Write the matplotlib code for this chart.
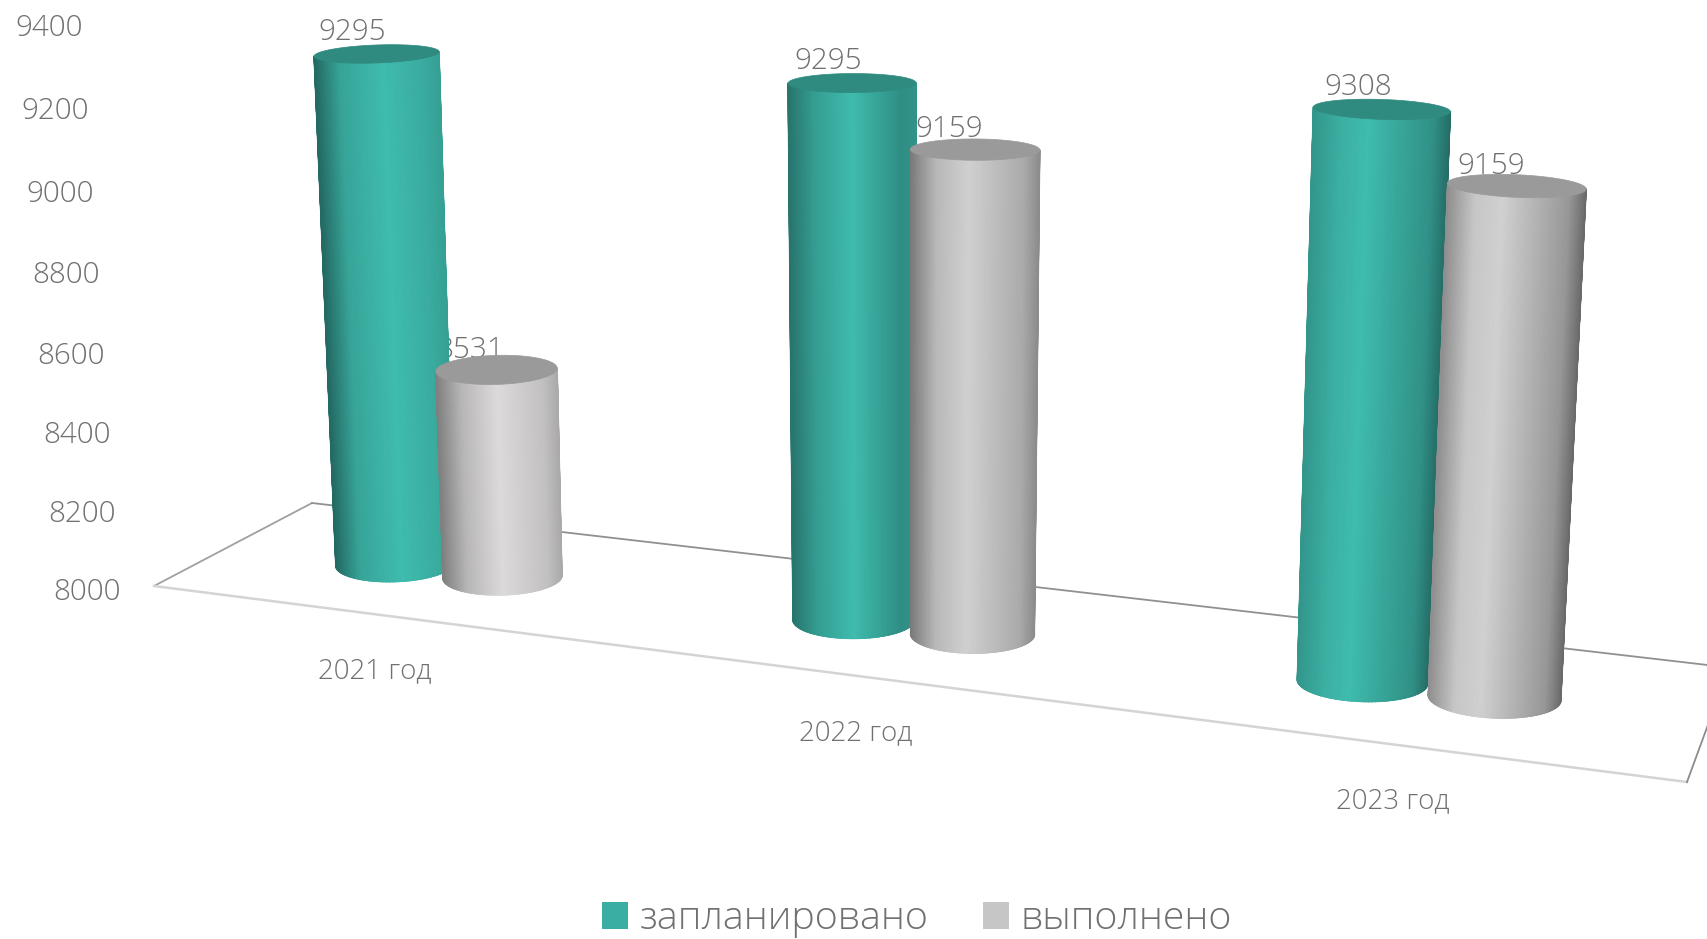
import numpy as np
import matplotlib
matplotlib.use("Agg")
import matplotlib.pyplot as plt
from matplotlib.colors import LinearSegmentedColormap
from matplotlib.patches import Patch, Polygon

# Data
categories = ["2021 год", "2022 год", "2023 год"]
series_names = ["запланировано", "выполнено"]
planned = [9295, 9295, 9308]
done = [8531, 9159, 9159]
y_ticks = [8000, 8200, 8400, 8600, 8800, 9000, 9200, 9400]

VMIN, VMAX = 8000, 9400
TEXT = "#707070"
plt.rcParams["font.family"] = ["Open Sans", "DejaVu Sans"]

# Floor corners in picture pixels: back-left, front-left, front-right, back-right
FLOOR = [(312, 503), (154, 586), (1687, 782), (1729, 667.5)]
VANISH = np.array([900.0, 14300.0])
G = 0.04


def floor_matrix():
    src = [(0, 1), (0, 0), (1, 0), (1, 1)]
    rows, rhs = [], []
    for (u, w), (x, y) in zip(src, FLOOR):
        rows.append([u, w, 1, 0, 0, 0, -u * x, -w * x])
        rows.append([0, 0, 0, u, w, 1, -u * y, -w * y])
        rhs += [x, y]
    h = np.linalg.solve(np.array(rows, float), np.array(rhs, float))
    return np.append(h, 1).reshape(3, 3)


HOM = floor_matrix()


def floor_point(u, w):
    p = HOM @ np.array([u, w, 1.0])
    return p[:2] / p[2]


def rise(value):
    t = (value - VMIN) / (VMAX - VMIN)
    return t * (1 - G) / (1 - G * t)


def lift(base, value, k=0.52, h0=555):
    # point above a floor point, leaning to the vertical vanishing point
    f = rise(value)
    height = (h0 + k * (base[1] - 568)) * f
    d = VANISH - base
    d = d / d[1]
    return base - d * height, f


def ellipse_frame(center, radius, axis_dir):
    # major axis is perpendicular to the cylinder axis
    major = np.array([axis_dir[1], -axis_dir[0]])
    major /= np.linalg.norm(major)
    minor = np.array([-major[1], major[0]])
    b = 9.0 + 0.0175 * (center[1] - 54)
    return center, major * radius, minor * b


def ring(frame, th):
    c, ma, mi = frame
    return c + np.outer(np.cos(th), ma) + np.outer(np.sin(th), mi)


def cylinder(ax, u, w, value, light, dark_tone, shade, top_color, z):
    base = floor_point(u, w)
    top, f = lift(base, value)
    axis_dir = VANISH - base
    r = max(59.5, 59.5 + (base[1] - 600) * 0.07)
    bottom_frame = ellipse_frame(base, r, axis_dir)
    top_frame = ellipse_frame(top, r * (1 + 0.055 * f), axis_dir)

    # side surface as a smooth mesh over the front half, right to left
    th = np.linspace(0, np.pi, 121)
    low = ring(bottom_frame, th)
    high = ring(top_frame, th)
    frac = 1 - (np.cos(th) + 1) / 2
    levels = np.interp(frac, [0, 0.12, shade[0], 0.8, 1], [shade[1], shade[2], 1, shade[3], shade[4]])
    cmap = LinearSegmentedColormap.from_list("side", [dark_tone, light])
    X = np.vstack([low[:, 0], high[:, 0]])
    Y = np.vstack([low[:, 1], high[:, 1]])
    C = np.vstack([levels, levels])
    ax.pcolormesh(X, Y, C, shading="gouraud", cmap=cmap, vmin=0, vmax=1, zorder=z)

    # smooth the mesh edges with thin lines in the same colours
    ax.plot([low[0, 0], high[0, 0]], [low[0, 1], high[0, 1]], color=cmap(levels[0]), lw=1, zorder=z)
    ax.plot([low[-1, 0], high[-1, 0]], [low[-1, 1], high[-1, 1]], color=cmap(levels[-1]), lw=1, zorder=z)
    for k in range(0, len(th) - 1, 2):
        ax.plot(low[k:k + 3, 0], low[k:k + 3, 1], color=cmap(levels[k]), lw=1, zorder=z)

    cap = ring(top_frame, np.linspace(0, 2 * np.pi, 200))
    ax.add_patch(Polygon(cap, closed=True, facecolor=top_color, edgecolor=top_color, linewidth=0.5, zorder=z + 0.1))
    return top


fig = plt.figure(figsize=(17.08, 9.39), dpi=100)
ax = fig.add_axes([0, 0, 1, 1])
ax.set_xlim(0, 1708)
ax.set_ylim(939, 0)
ax.axis("off")

# floor outline
fl = np.array(FLOOR)
ax.plot(fl[[0, 1], 0], fl[[0, 1], 1], color="#a0a0a0", lw=1.3, zorder=1)
ax.plot(fl[[1, 2], 0], fl[[1, 2], 1], color="#d4d4d4", lw=1.8, zorder=1)
ax.plot(fl[[2, 3], 0], fl[[2, 3], 1], color="#8c8c8c", lw=1.3, zorder=1)
ax.plot(fl[[3, 0], 0], fl[[3, 0], 1], color="#909090", lw=1.3, zorder=1)

# value axis labels
corner = floor_point(0, 0)
for v in y_ticks:
    f = rise(v)
    p, _ = lift(corner, v, k=0.51, h0=552)
    ax.text(corner[0] - 33 - 38 * f, p[1] + 6 - 3 * f, str(v), ha="right", va="center",
            fontsize=21.3, color=TEXT, fontweight="light", zorder=2)

# per cylinder shading: peak position, left edge, near left, near right, right edge
plan_shades = [(0.45, 0.74, 0.84, 0.78, 0.25), (0.5, 0.62, 0.58, 0.72, 0.35), (0.6, 0.28, 0.60, 0.88, 0.65)]
done_shades = [(0.5, 0.62, 0.80, 0.72, 0.30), (0.55, 0.42, 0.68, 0.80, 0.28), (0.6, 0.14, 0.52, 0.92, 0.45)]
done_light = ["#dcdada", "#d0d0d0", "#d0d0d0"]

U_CENTER = [(i + 0.5) / 3 for i in range(3)]
U_PLAN = -0.041
U_DONE = 0.04
W_ROW = 0.485

for i in range(3):
    z = 3 + i * 2
    top_a = cylinder(ax, U_CENTER[i] + U_PLAN, W_ROW, planned[i], "#3fbcae", "#1b4f4b", plan_shades[i], "#2f8a80", z)
    top_b = cylinder(ax, U_CENTER[i] + U_DONE, W_ROW, done[i], done_light[i], "#5a5a5a", done_shades[i], "#9a9a9a", z + 1)
    ax.text(top_a[0] - 24, top_a[1] - 22, str(planned[i]), ha="center", va="center",
            fontsize=21.3, color=TEXT, fontweight="light", zorder=2)
    ax.text(top_b[0] - 26, top_b[1] - 20, str(done[i]), ha="center", va="center",
            fontsize=21.3, color=TEXT, fontweight="light", zorder=2)
    pos = floor_point(U_CENTER[i], 0)
    ax.text(pos[0] - 2, pos[1] + 57, categories[i], ha="center", va="center",
            fontsize=20, color=TEXT, fontweight="light", zorder=2)

handles = [Patch(facecolor="#3aaea3", edgecolor="none", label=series_names[0]),
           Patch(facecolor="#c6c6c6", edgecolor="none", label=series_names[1])]
leg = ax.legend(handles=handles, ncol=2, loc="center", bbox_to_anchor=(917, 919), bbox_transform=ax.transData,
                frameon=False, handlelength=0.655, handleheight=0.655, handletextpad=0.3,
                columnspacing=1.37, borderpad=0, labelcolor=TEXT, prop={"size": 28.4, "weight": "light"})

fig.savefig("out.png", dpi=100, facecolor="white")
